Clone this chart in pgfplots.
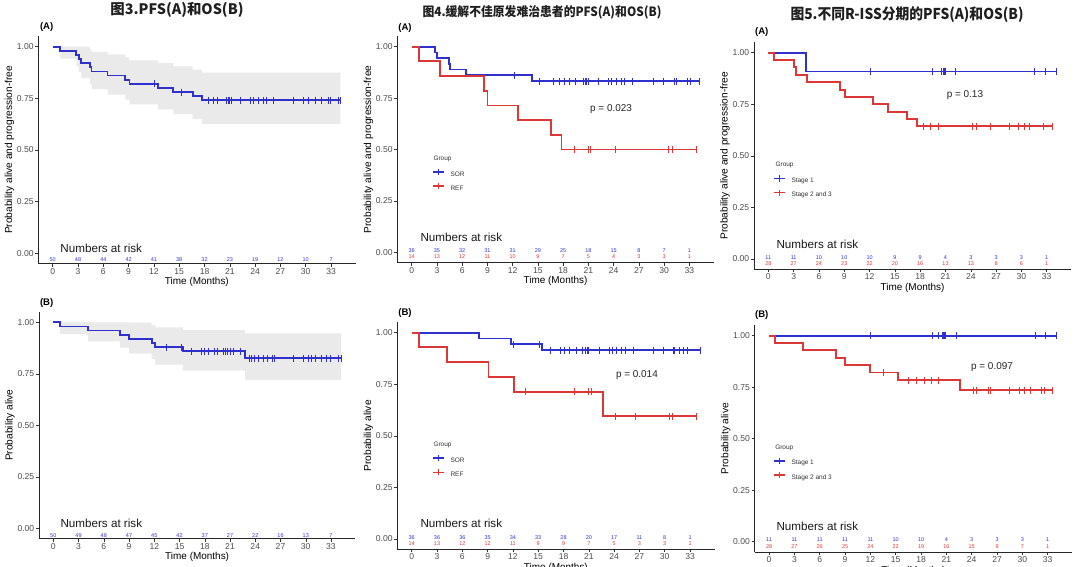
\documentclass[border=0pt]{standalone}
\usepackage{fontspec}
\setmainfont{Liberation Sans}
\newfontfamily\cjk{Noto Sans CJK SC}
\usepackage{graphicx}
\usepackage{pgfplots}
\pgfplotsset{compat=1.18}

\definecolor{kmblue}{RGB}{48,48,205}
\definecolor{kmred}{RGB}{220,55,55}
\definecolor{band}{RGB}{234,234,234}
\definecolor{tickgray}{RGB}{77,77,77}

\pgfplotsset{
  km/.style={
    scale only axis,
    axis lines=left,
    axis line style={-, line width=0.6bp, black!85},
    xmin=-1.71, xmax=35.9, ymin=-0.05, ymax=1.05,
    xtick={0,3,...,33}, ytick={0,0.25,0.5,0.75,1},
    yticklabels={0.00,0.25,0.50,0.75,1.00},
    tick align=outside, major tick length=3bp,
    tick style={line width=0.5bp, black!80},
    ticklabel style={font=\fontsize{8.6}{9}\selectfont, text=tickgray, inner sep=1.5bp},
    /pgf/number format/assume math mode=true,
    xlabel={Time (Months)},
    xlabel style={at={(axis description cs:0.5,0)}, anchor=center, yshift=-18.7bp, font=\fontsize{10}{11}\selectfont},
    ylabel style={at={(axis description cs:0,0.5)}, anchor=center, yshift=28.8bp, font=\fontsize{10.2}{11}\selectfont},
    clip=false,
  },
  curve/.style={const plot, line width=1.8bp, mark=none, draw=#1, color=#1},
  cens/.style={only marks, mark=|, mark size=3.5bp, mark options={line width=0.9bp, draw=#1}, color=#1, forget plot},
  risk/.style={only marks, mark=none, point meta=explicit symbolic, nodes near coords,
    every node near coord/.append style={anchor=center, inner sep=0pt, text=#1, font=\fontsize{5.5}{6}\selectfont}, forget plot},
  kmkey/.style={legend image code/.code={\draw[##1, line width=1.5bp] (0bp,2.3bp) -- (11bp,2.3bp); \draw[##1, line width=0.9bp] (5.5bp,-0.9bp) -- (5.5bp,5.5bp);}},
  kmleg/.style 2 args={legend style={at={(axis description cs:#1,#2)}, anchor=north west, draw=none, fill=none,
    inner sep=0pt, outer sep=0pt, row sep=5.2bp, font=\fontsize{6.5}{7}\selectfont, text=black!80,
    nodes={inner sep=0pt, text height=4.7bp, text depth=1.3bp},
    /tikz/every odd column/.append style={column sep=6bp}}, legend cell align=left},
}
\tikzset{
  nar/.style={anchor=west, font=\fontsize{11.7}{12}\selectfont, text=black!90},
  pval/.style={anchor=center, font=\fontsize{10}{11}\selectfont, text=black!85},
  grp/.style={anchor=west, font=\fontsize{6.5}{7}\selectfont, text=black!80},
  plab/.style={anchor=center, font=\bfseries\fontsize{9.6}{10}\selectfont},
  ttl/.style={anchor=center, text=black!88},
}

\begin{document}
\begin{tikzpicture}
\fill[white] (0,0) rectangle (1080bp,567bp);

% titles
\node[ttl] at (177bp,557bp) {\resizebox{133bp}{\height}{\cjk\bfseries\fontsize{14.5}{15}\selectfont 图3.PFS(A)和OS(B)}};
\node[ttl] at (542bp,555bp) {\resizebox{239bp}{\height}{\cjk\bfseries\fontsize{12.8}{13}\selectfont 图4.缓解不佳原发难治患者的PFS(A)和OS(B)}};
\node[ttl] at (907bp,552bp) {\resizebox{233bp}{\height}{\cjk\bfseries\fontsize{15}{16}\selectfont 图5.不同R-ISS分期的PFS(A)和OS(B)}};

% panel labels
\node[plab] at (46.7bp,540.3bp) {(A)};
\node[plab] at (405bp,538.7bp) {(A)};
\node[plab] at (761.7bp,534.7bp) {(A)};
\node[plab] at (46.7bp,263.7bp) {(B)};
\node[plab] at (405bp,253.7bp) {(B)};
\node[plab] at (761.7bp,252bp) {(B)};

%================ Panel 1A
\begin{axis}[km, at={(38.3bp,303.4bp)}, anchor=south west, width=317.2bp, height=227.3bp,
  ylabel={Probability alive and progression-free}]
\addplot[fill=band, draw=none, forget plot] coordinates {(0,1)(4.4,1)(4.4,0.987)(4.6,0.987)(4.6,0.974)(6.5,0.974)(6.5,0.962)(8.6,0.962)(8.6,0.948)(9.1,0.948)(9.1,0.934)(12.5,0.934)(12.5,0.92)(14.3,0.92)(14.3,0.905)(16.6,0.905)(16.6,0.889)(17.7,0.889)(17.7,0.874)(34.1,0.874)
 (34.1,0.626)(17.7,0.626)(17.7,0.65)(16.6,0.65)(16.6,0.673)(14.3,0.673)(14.3,0.696)(12.5,0.696)(12.5,0.72)(9.1,0.72)(9.1,0.744)(8.6,0.744)(8.6,0.768)(6.5,0.768)(6.5,0.794)(4.6,0.794)(4.6,0.821)(4.4,0.821)(4.4,0.848)(3.4,0.848)(3.4,0.876)(3.1,0.876)(3.1,0.906)(2.8,0.906)(2.8,0.942)(0.9,0.942)(0.9,1)};
\addplot[curve=kmblue] coordinates {(0,1)(0.9,0.98)(2.8,0.96)(3.1,0.94)(3.4,0.92)(4.4,0.90)(4.6,0.88)(6.5,0.86)(8.6,0.84)(9.1,0.82)(12.5,0.80)(14.3,0.78)(16.6,0.76)(17.7,0.74)(34.1,0.74)};
\addplot[cens=kmblue] coordinates {(12.1,0.82)(15.3,0.78)(18.5,0.74)(19.1,0.74)(19.5,0.74)(20.6,0.74)(20.8,0.74)(21.0,0.74)(21.2,0.74)(22.2,0.74)(23.4,0.74)(23.8,0.74)(24.4,0.74)(25.0,0.74)(25.4,0.74)(26.2,0.74)(28.5,0.74)(29.7,0.74)(30.3,0.74)(31.1,0.74)(31.2,0.74)(31.9,0.74)(32.7,0.74)(32.9,0.74)(33.9,0.74)(34.1,0.74)};
\addplot[risk=kmblue] coordinates {(0,-0.032)[50] (3,-0.032)[48] (6,-0.032)[44] (9,-0.032)[42] (12,-0.032)[41] (15,-0.032)[38] (18,-0.032)[32] (21,-0.032)[23] (24,-0.032)[19] (27,-0.032)[12] (30,-0.032)[10] (33,-0.032)[7]};
\node[nar] at (axis cs:0.5,0.026) {Numbers at risk};
\end{axis}

%================ Panel 1B
\begin{axis}[km, at={(38.9bp,28.4bp)}, anchor=south west, width=316.5bp, height=226.6bp,
  ylabel={Probability alive}]
\addplot[fill=band, draw=none, forget plot] coordinates {(0,1)(9.0,1)(9.0,0.998)(11.7,0.998)(11.7,0.987)(12.1,0.987)(12.1,0.975)(15.4,0.975)(15.4,0.962)(22.8,0.962)(22.8,0.946)(34.2,0.946)
 (34.2,0.719)(22.8,0.719)(22.8,0.766)(15.4,0.766)(15.4,0.794)(12.1,0.794)(12.1,0.821)(11.7,0.821)(11.7,0.848)(9.0,0.848)(9.0,0.877)(7.9,0.877)(7.9,0.907)(4.1,0.907)(4.1,0.942)(0.8,0.942)(0.8,1)};
\addplot[curve=kmblue] coordinates {(0,1)(0.8,0.98)(4.1,0.96)(7.9,0.94)(9.0,0.92)(11.7,0.90)(12.1,0.88)(15.4,0.859)(22.8,0.825)(34.2,0.825)};
\addplot[cens=kmblue] coordinates {(13.5,0.88)(15.2,0.88)(16.4,0.859)(17.6,0.859)(17.95,0.859)(18.4,0.859)(19.2,0.859)(19.5,0.859)(20.2,0.859)(20.4,0.859)(20.7,0.859)(21.0,0.859)(21.4,0.859)(22.2,0.859)(23.3,0.825)(23.6,0.825)(23.9,0.825)(24.4,0.825)(25.0,0.825)(25.4,0.825)(26.0,0.825)(26.3,0.825)(28.5,0.825)(29.7,0.825)(30.3,0.825)(30.7,0.825)(31.1,0.825)(31.2,0.825)(31.9,0.825)(32.5,0.825)(32.9,0.825)(33.9,0.825)(34.2,0.825)};
\addplot[risk=kmblue] coordinates {(0,-0.037)[50] (3,-0.037)[49] (6,-0.037)[48] (9,-0.037)[47] (12,-0.037)[45] (15,-0.037)[42] (18,-0.037)[37] (21,-0.037)[27] (24,-0.037)[22] (27,-0.037)[16] (30,-0.037)[13] (33,-0.037)[7]};
\node[nar] at (axis cs:0.44,0.026) {Numbers at risk};
\end{axis}

%================ Panel 2A
\begin{axis}[km, at={(397.3bp,304.4bp)}, anchor=south west, width=316.4bp, height=226.2bp,
  ylabel={Probability alive and progression-free}, kmleg={0.1097}{0.4165}]
\addplot[curve=kmblue, kmkey] coordinates {(0,1)(2.8,0.972)(3.0,0.944)(4.4,0.917)(4.6,0.889)(6.5,0.861)(14.3,0.833)(34.2,0.833)};
\addlegendentry{SOR}
\addplot[curve=kmred, kmkey] coordinates {(0,1)(0.87,0.929)(3.4,0.857)(8.6,0.786)(9.0,0.714)(12.6,0.643)(16.6,0.571)(17.8,0.5)(33.8,0.5)};
\addlegendentry{REF}
\addplot[cens=kmblue] coordinates {(12.2,0.861)(15.24,0.833)(16.8,0.833)(17.6,0.833)(18.2,0.833)(18.8,0.833)(19.5,0.833)(20.4,0.833)(20.6,0.833)(20.8,0.833)(21.0,0.833)(22.2,0.833)(23.4,0.833)(23.7,0.833)(24.3,0.833)(24.9,0.833)(25.3,0.833)(26.3,0.833)(28.7,0.833)(29.9,0.833)(31.2,0.833)(31.5,0.833)(32.8,0.833)(33.1,0.833)(34.2,0.833)};
\addplot[cens=kmred] coordinates {(19.3,0.5)(21.0,0.5)(21.2,0.5)(24.2,0.5)(30.5,0.5)(31.0,0.5)(33.8,0.5)};
\addplot[risk=kmblue] coordinates {(0,0.008)[36] (3,0.008)[35] (6,0.008)[32] (9,0.008)[31] (12,0.008)[31] (15,0.008)[29] (18,0.008)[25] (21,0.008)[18] (24,0.008)[15] (27,0.008)[8] (30,0.008)[7] (33,0.008)[1]};
\addplot[risk=kmred] coordinates {(0,-0.023)[14] (3,-0.023)[13] (6,-0.023)[12] (9,-0.023)[11] (12,-0.023)[10] (15,-0.023)[9] (18,-0.023)[7] (21,-0.023)[5] (24,-0.023)[4] (27,-0.023)[3] (30,-0.023)[3] (33,-0.023)[1]};
\node[nar] at (axis cs:0.63,0.074) {Numbers at risk};
\node[pval] at (axis cs:23.7,0.697) {p = 0.023};
\node[grp] at (axis cs:2.18,0.454) {Group};
\end{axis}

%================ Panel 2B
\begin{axis}[km, at={(397.3bp,17.7bp)}, anchor=south west, width=317.2bp, height=226.9bp,
  ylabel={Probability alive}, kmleg={0.1094}{0.418}]
\addplot[curve=kmblue, kmkey] coordinates {(0,1)(8.0,0.972)(11.8,0.944)(15.4,0.916)(34.2,0.916)};
\addlegendentry{SOR}
\addplot[curve=kmred, kmkey] coordinates {(0,1)(0.86,0.929)(4.15,0.857)(9.1,0.786)(12.1,0.714)(22.7,0.595)(33.8,0.595)};
\addlegendentry{REF}
\addplot[cens=kmblue] coordinates {(12.1,0.944)(15.2,0.944)(16.5,0.916)(17.6,0.916)(18.1,0.916)(18.7,0.916)(19.5,0.916)(20.3,0.916)(20.6,0.916)(20.8,0.916)(21.0,0.916)(22.2,0.916)(23.4,0.916)(23.8,0.916)(24.3,0.916)(24.9,0.916)(25.3,0.916)(26.3,0.916)(28.7,0.916)(29.8,0.916)(31.0,0.916)(31.2,0.916)(31.7,0.916)(32.2,0.916)(32.7,0.916)(34.2,0.916)};
\addplot[cens=kmred] coordinates {(13.5,0.714)(19.3,0.714)(21.0,0.714)(21.3,0.714)(24.2,0.595)(26.5,0.595)(30.5,0.595)(30.9,0.595)(33.8,0.595)};
\addplot[risk=kmblue] coordinates {(0,0.008)[36] (3,0.008)[36] (6,0.008)[36] (9,0.008)[35] (12,0.008)[34] (15,0.008)[33] (18,0.008)[28] (21,0.008)[20] (24,0.008)[17] (27,0.008)[11] (30,0.008)[8] (33,0.008)[1]};
\addplot[risk=kmred] coordinates {(0,-0.024)[14] (3,-0.024)[13] (6,-0.024)[12] (9,-0.024)[12] (12,-0.024)[11] (15,-0.024)[9] (18,-0.024)[9] (21,-0.024)[7] (24,-0.024)[5] (27,-0.024)[3] (30,-0.024)[3] (33,-0.024)[1]};
\node[nar] at (axis cs:0.63,0.078) {Numbers at risk};
\node[pval] at (axis cs:26.7,0.795) {p = 0.014};
\node[grp] at (axis cs:2.17,0.456) {Group};
\end{axis}

%================ Panel 3A
\begin{axis}[km, at={(753.9bp,297.7bp)}, anchor=south west, width=317.3bp, height=226.9bp,
  ylabel={Probability alive and progression-free}, kmleg={0.0602}{0.416}]
\addplot[curve=kmblue, kmkey] coordinates {(0,1)(4.45,0.909)(34.1,0.909)};
\addlegendentry{Stage 1}
\addplot[curve=kmred, kmkey] coordinates {(0,1)(0.7,0.964)(3.0,0.929)(3.25,0.893)(4.55,0.857)(8.5,0.821)(9.1,0.786)(12.4,0.75)(14.2,0.714)(16.4,0.679)(17.6,0.643)(33.7,0.643)};
\addlegendentry{Stage 2 and 3}
\addplot[cens=kmblue] coordinates {(12.05,0.909)(19.5,0.909)(20.5,0.909)(20.7,0.909)(20.85,0.909)(21.0,0.909)(22.2,0.909)(31.6,0.909)(32.8,0.909)(34.1,0.909)};
\addplot[cens=kmred] coordinates {(18.4,0.643)(19.2,0.643)(20.2,0.643)(24.2,0.643)(24.7,0.643)(26.3,0.643)(28.6,0.643)(29.7,0.643)(30.4,0.643)(31.0,0.643)(32.6,0.643)(33.7,0.643)};
\addplot[risk=kmblue] coordinates {(0,0.006)[11] (3,0.006)[11] (6,0.006)[10] (9,0.006)[10] (12,0.006)[10] (15,0.006)[9] (18,0.006)[9] (21,0.006)[4] (24,0.006)[3] (27,0.006)[3] (30,0.006)[3] (33,0.006)[1]};
\addplot[risk=kmred] coordinates {(0,-0.021)[28] (3,-0.021)[27] (6,-0.021)[24] (9,-0.021)[23] (12,-0.021)[22] (15,-0.021)[20] (18,-0.021)[16] (21,-0.021)[13] (24,-0.021)[13] (27,-0.021)[8] (30,-0.021)[6] (33,-0.021)[1]};
\node[nar] at (axis cs:0.56,0.073) {Numbers at risk};
\node[pval] at (axis cs:23.3,0.795) {p = 0.13};
\node[grp] at (axis cs:0.44,0.456) {Group};
\end{axis}

%================ Panel 3B
\begin{axis}[km, at={(754.6bp,15bp)}, anchor=south west, width=317.6bp, height=226.6bp,
  ylabel={Probability alive}, kmleg={0.058}{0.418}]
\addplot[curve=kmblue, kmkey] coordinates {(0,1)(34.0,1)};
\addlegendentry{Stage 1}
\addplot[curve=kmred, kmkey] coordinates {(0,1)(0.7,0.964)(4.0,0.929)(7.9,0.893)(9.0,0.857)(12.0,0.821)(15.3,0.784)(22.6,0.735)(33.6,0.735)};
\addlegendentry{Stage 2 and 3}
\addplot[cens=kmblue] coordinates {(12.0,1)(19.4,1)(20.1,1)(20.5,1)(20.7,1)(20.8,1)(20.9,1)(22.2,1)(31.5,1)(32.7,1)(34.0,1)};
\addplot[cens=kmred] coordinates {(13.5,0.821)(16.5,0.784)(17.5,0.784)(18.4,0.784)(19.2,0.784)(20.1,0.784)(24.2,0.735)(24.6,0.735)(26.0,0.735)(26.2,0.735)(28.5,0.735)(29.7,0.735)(30.3,0.735)(30.9,0.735)(32.2,0.735)(32.6,0.735)(33.6,0.735)};
\addplot[risk=kmblue] coordinates {(0,0.008)[11] (3,0.008)[11] (6,0.008)[11] (9,0.008)[11] (12,0.008)[11] (15,0.008)[10] (18,0.008)[10] (21,0.008)[4] (24,0.008)[3] (27,0.008)[3] (30,0.008)[3] (33,0.008)[1]};
\addplot[risk=kmred] coordinates {(0,-0.024)[28] (3,-0.024)[27] (6,-0.024)[26] (9,-0.024)[25] (12,-0.024)[24] (15,-0.024)[22] (18,-0.024)[19] (21,-0.024)[16] (24,-0.024)[15] (27,-0.024)[9] (30,-0.024)[7] (33,-0.024)[1]};
\node[nar] at (axis cs:0.47,0.076) {Numbers at risk};
\node[pval] at (axis cs:26.4,0.848) {p = 0.097};
\node[grp] at (axis cs:0.32,0.456) {Group};
\end{axis}

\pgfresetboundingbox
\useasboundingbox (0,0) rectangle (1080bp,567bp);
\end{tikzpicture}
\end{document}
